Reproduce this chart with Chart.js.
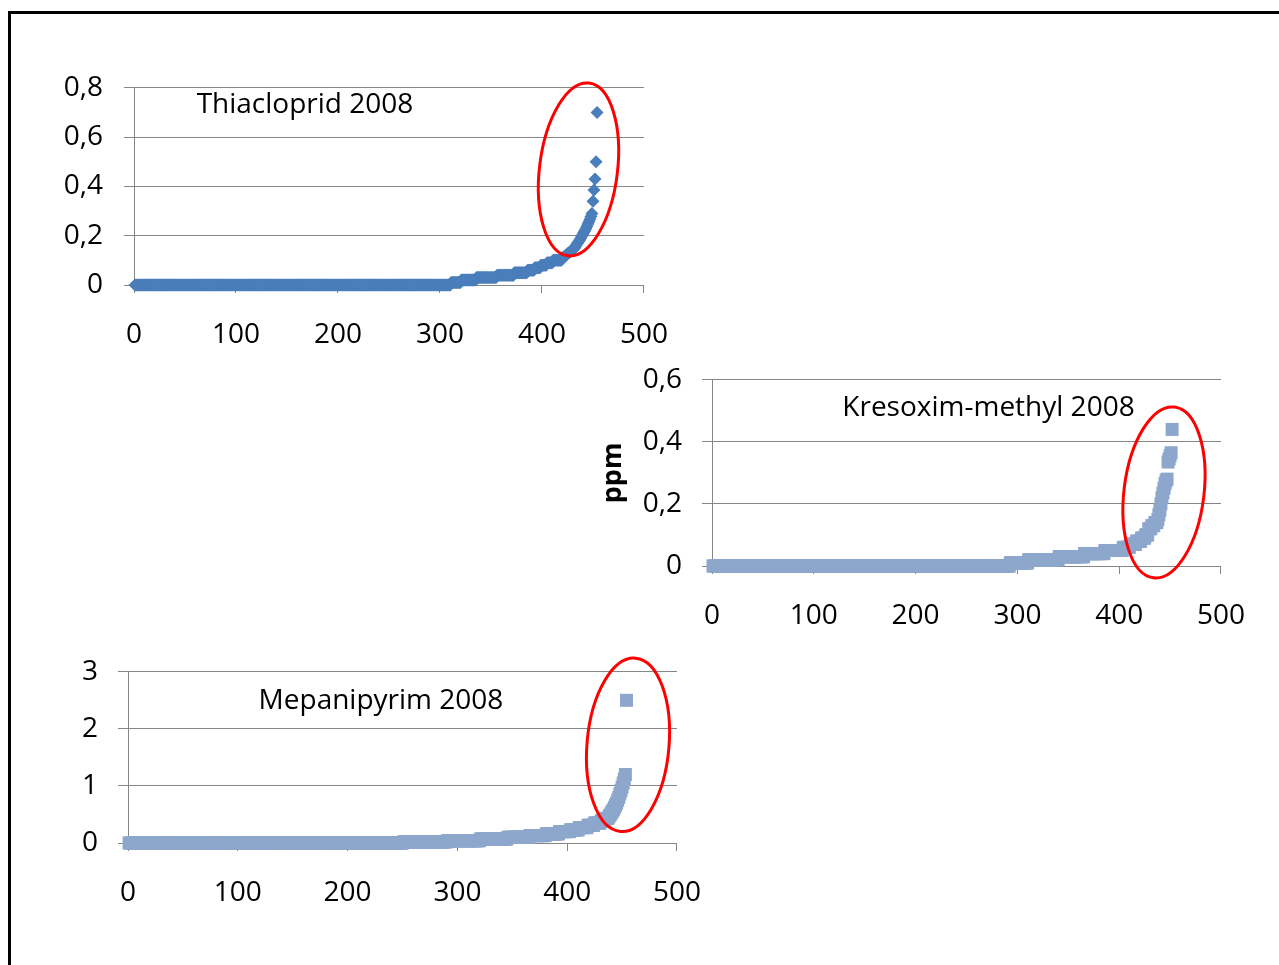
<!DOCTYPE html>
<html><head><meta charset="utf-8">
<script src="https://cdn.jsdelivr.net/npm/chart.js@4.4.1/dist/chart.umd.min.js"></script>
<style>
html,body{margin:0;padding:0;background:#fff;overflow:hidden;width:1279px;height:965px;}
#frame{position:absolute;left:8px;top:11px;width:1300px;height:1000px;border:3px solid #000;}
.box{position:absolute;}
</style></head><body>
<div id="frame"></div>
<div class="box" style="left:30px;top:50px;width:663px;height:310px"><canvas id="c1"></canvas></div>
<div class="box" style="left:593px;top:343px;width:677px;height:298px"><canvas id="c2"></canvas></div>
<div class="box" style="left:40px;top:635px;width:686px;height:283px"><canvas id="c3"></canvas></div>
<script>
// ---- data (sorted residue values and how many samples sit at each value) ----
const xTickValues = [0, 100, 200, 300, 400, 500];

const thiaTitle = 'Thiacloprid 2008';
const thiaLevels = [0, 0.01, 0.02, 0.03, 0.04, 0.05, 0.06, 0.07, 0.08, 0.09, 0.1,
  0.11, 0.113, 0.116, 0.12, 0.123, 0.127, 0.13, 0.133, 0.136, 0.14, 0.142, 0.146, 0.15,
  0.157, 0.165, 0.17, 0.176, 0.183, 0.19, 0.198, 0.205, 0.213, 0.22, 0.228, 0.237,
  0.247, 0.257, 0.267, 0.278, 0.29, 0.34, 0.385, 0.43, 0.5, 0.7];
const thiaCounts = [310, 10, 15, 20, 17, 13, 7, 6, 6, 6, 9,
  1, 1, 1, 1, 1, 1, 1, 1, 1, 1, 1, 1, 1,
  1, 1, 1, 1, 1, 1, 1, 1, 1, 1, 1, 1,
  1, 1, 1, 1, 1, 1, 1, 1, 1, 1];
const thiaYTicks = ['0', '0,2', '0,4', '0,6', '0,8'];

const kresoTitle = 'Kresoxim-methyl 2008';
const kresoLevels = [0, 0.01, 0.02, 0.03, 0.04, 0.05, 0.06, 0.07, 0.08, 0.09, 0.1, 0.12, 0.13, 0.14,
  0.15, 0.165, 0.18, 0.2, 0.22, 0.235, 0.25, 0.265, 0.275, 0.28, 0.335, 0.345, 0.355, 0.365, 0.44];
const kresoCounts = [292, 18, 30, 25, 20, 18, 7, 6, 5, 4, 3, 3, 3, 3,
  1, 1, 1, 1, 1, 1, 1, 1, 1, 1, 1, 1, 1, 1, 1];
const kresoYTicks = ['0', '0,2', '0,4', '0,6'];
const kresoYTitle = 'ppm';

const mepaTitle = 'Mepanipyrim 2008';
const mepaLevels = [0, 0.02, 0.04, 0.07, 0.1, 0.13, 0.16, 0.2, 0.23, 0.27, 0.31, 0.35, 0.39, 0.43,
  0.46, 0.49, 0.52, 0.55, 0.58, 0.62, 0.66, 0.7, 0.75, 0.8, 0.86, 0.92, 0.98, 1.05, 1.12, 1.2, 2.5];
const mepaCounts = [250, 40, 30, 25, 20, 15, 12, 10, 8, 8, 6, 6, 4, 3,
  1, 1, 1, 1, 1, 1, 1, 1, 1, 1, 1, 1, 1, 1, 1, 1, 1];
const mepaYTicks = ['0', '1', '2', '3'];

// ---- build point tables (x = rank of the sample) ----
function toPoints(levels, counts) {
  const pts = [];
  let rank = 1;
  levels.forEach((v, i) => {
    for (let k = 0; k < counts[i]; k++) { pts.push({x: rank, y: v}); rank++; }
  });
  return pts;
}

const FONT = "'Open Sans', 'DejaVu Sans', sans-serif";
const FSIZE = 28;
const GRID = '#868686';

const decoPlugin = {
  id: 'deco',
  afterDatasetsDraw(chart, args, o) {
    const {ctx, scales: {x, y}} = chart;
    ctx.save();
    if (o.text) {
      ctx.font = o.fontSize + 'px ' + FONT;
      ctx.fillStyle = '#000';
      ctx.textAlign = 'center';
      ctx.textBaseline = 'middle';
      ctx.fillText(o.text, x.getPixelForValue(o.textAt[0]), y.getPixelForValue(o.textAt[1]));
    }
    if (o.ellipse) {
      const e = o.ellipse;
      ctx.beginPath();
      ctx.ellipse(x.getPixelForValue(e.cx), y.getPixelForValue(e.cy), e.rx, e.ry, e.rot * Math.PI / 180, 0, Math.PI * 2);
      ctx.strokeStyle = '#FF0000';
      ctx.lineWidth = 3;
      ctx.stroke();
    }
    ctx.restore();
  }
};

function makeChart(id, cfg) {
  return new Chart(document.getElementById(id), {
    type: 'scatter',
    data: {datasets: [{
      data: toPoints(cfg.levels, cfg.counts),
      pointStyle: cfg.pointStyle,
      pointRadius: cfg.radius,
      pointHoverRadius: cfg.radius,
      backgroundColor: cfg.color,
      borderColor: cfg.color,
      borderWidth: 0,
      clip: false
    }]},
    options: {
      responsive: true,
      maintainAspectRatio: false,
      animation: false,
      events: [],
      layout: {padding: {top: 20, right: 30, left: 0, bottom: 0}},
      plugins: {
        legend: {display: false},
        tooltip: {enabled: false},
        deco: {text: cfg.title, textAt: cfg.textAt, fontSize: FSIZE, ellipse: cfg.ellipse}
      },
      scales: {
        x: {
          type: 'linear', min: 0, max: 500,
          afterFit(a) { a.height = 75; },
          afterBuildTicks(a) { a.ticks = xTickValues.map(v => ({value: v})); },
          ticks: {padding: 25, color: '#000', font: {family: FONT, size: FSIZE}, maxRotation: 0},
          grid: {drawOnChartArea: false, drawTicks: true, tickLength: 8, color: GRID},
          border: {color: GRID, width: 1}
        },
        y: {
          type: 'linear', min: 0, max: cfg.ymax,
          afterFit(a) { a.width = cfg.yWidth; },
          ticks: {stepSize: cfg.ystep, padding: cfg.yPad, color: '#000', font: {family: FONT, size: FSIZE},
            callback: (v, i) => cfg.yTicks[i]},
          grid: {color: GRID, tickLength: 10},
          border: {color: GRID, width: 1},
          title: cfg.yTitle ? {display: true, text: cfg.yTitle, color: '#000',
            font: {family: FONT, size: 27, weight: 'bold'}, padding: {top: 4, bottom: 4}} : {display: false}
        }
      }
    },
    plugins: [decoPlugin]
  });
}

makeChart('c1', {
  levels: thiaLevels, counts: thiaCounts, yTicks: thiaYTicks, title: thiaTitle,
  pointStyle: 'rectRot', radius: 6.5, color: '#4A7EBB',
  ymax: 0.8, ystep: 0.2, yWidth: 104, yPad: 21,
  textAt: [167.6, 0.731],
  ellipse: {cx: 435.8, cy: 0.469, rx: 39, ry: 87, rot: 7}
});
makeChart('c2', {
  levels: kresoLevels, counts: kresoCounts, yTicks: kresoYTicks, title: kresoTitle, yTitle: kresoYTitle,
  pointStyle: 'rect', radius: 9.2, color: '#8DA7CC',
  ymax: 0.6, ystep: 0.2, yWidth: 119, yPad: 20,
  textAt: [271.6, 0.51],
  ellipse: {cx: 444, cy: 0.237, rx: 40, ry: 86, rot: 7}
});
makeChart('c3', {
  levels: mepaLevels, counts: mepaCounts, yTicks: mepaYTicks, title: mepaTitle,
  pointStyle: 'rect', radius: 9.2, color: '#8DA7CC',
  ymax: 3, ystep: 1, yWidth: 88, yPad: 20,
  textAt: [230.4, 2.49],
  ellipse: {cx: 455.4, cy: 1.72, rx: 41, ry: 87, rot: 5}
});
</script>
</body></html>
